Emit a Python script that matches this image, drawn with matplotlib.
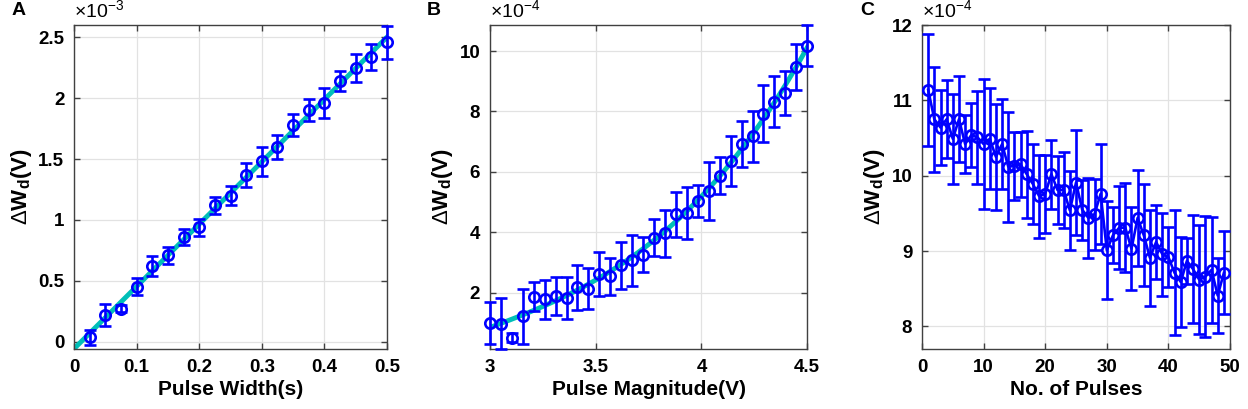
import numpy as np
import matplotlib
matplotlib.use('Agg')
import matplotlib.pyplot as plt

plt.rcParams['font.family'] = ['Liberation Sans', 'DejaVu Sans']
plt.rcParams['mathtext.fontset'] = 'custom'
plt.rcParams['mathtext.rm'] = 'Liberation Sans'
plt.rcParams['mathtext.bf'] = 'Liberation Sans:bold'

# panel A: pulse width (s) vs dW (x1e-3 V)
width_s = np.linspace(0.025, 0.5, 20)
width_dw = [0.036, 0.22, 0.27, 0.45, 0.62, 0.71, 0.86, 0.94, 1.12, 1.20,
            1.37, 1.48, 1.60, 1.78, 1.90, 1.96, 2.14, 2.25, 2.34, 2.46]
width_err = [0.06, 0.09, 0.03, 0.07, 0.08, 0.07, 0.065, 0.07, 0.07, 0.08,
             0.10, 0.12, 0.10, 0.09, 0.09, 0.125, 0.085, 0.115, 0.105, 0.135]

# panel B: pulse magnitude (V) vs dW (x1e-4 V)
mag_v = np.linspace(3.0, 4.5, 30)
mag_dw = [0.99, 0.97, 0.51, 1.22, 1.86, 1.77, 1.88, 1.82, 2.17, 2.13,
          2.61, 2.54, 2.91, 3.07, 3.26, 3.82, 3.96, 4.59, 4.64, 5.03,
          5.37, 5.87, 6.35, 6.92, 7.18, 7.93, 8.32, 8.62, 9.46, 10.17]
mag_err = [0.69, 0.84, 0.15, 0.91, 0.48, 0.64, 0.63, 0.71, 0.75, 0.67,
           0.74, 0.62, 0.78, 0.85, 0.58, 0.60, 0.79, 0.75, 0.85, 0.53,
           0.97, 0.62, 0.82, 0.77, 0.85, 0.95, 0.85, 0.73, 0.76, 0.68]

# panel C: number of pulses vs dW (x1e-4 V)
n_pulses = np.arange(1, 50)
n_dw = [11.14, 10.75, 10.64, 10.75, 10.49, 10.75, 10.42, 10.54, 10.51, 10.42,
        10.49, 10.25, 10.42, 10.12, 10.13, 10.15, 10.02, 9.89, 9.73, 9.76,
        10.02, 9.81, 9.81, 9.54, 9.91, 9.55, 9.44, 9.49, 9.76, 9.01,
        9.21, 9.31, 9.31, 9.03, 9.44, 9.21, 8.91, 9.12, 8.96, 8.92,
        8.71, 8.59, 8.87, 8.76, 8.62, 8.66, 8.75, 8.41, 8.71]
n_err = [0.74, 0.70, 0.50, 0.52, 0.60, 0.57, 0.39, 0.42, 0.62, 0.86,
         0.67, 0.70, 0.60, 0.73, 0.45, 0.43, 0.58, 0.53, 0.55, 0.52,
         0.46, 0.45, 0.50, 0.52, 0.70, 0.40, 0.53, 0.47, 0.66, 0.65,
         0.37, 0.55, 0.59, 0.55, 0.64, 0.68, 0.64, 0.49, 0.55, 0.40,
         0.83, 0.60, 0.31, 0.72, 0.72, 0.80, 0.70, 0.50, 0.55]

blue = (0, 0, 1)
fit_col = (0.0, 0.75, 0.72)

fig = plt.figure(figsize=(12.48, 4.09), dpi=100)
ax_a = fig.add_axes([0.0593, 0.1467, 0.2508, 0.792])
ax_b = fig.add_axes([0.3926, 0.1467, 0.2542, 0.792])
ax_c = fig.add_axes([0.7388, 0.1467, 0.2468, 0.792])

eb_kw = dict(color=blue, mfc='none', ms=7.5, mew=1.9, elinewidth=1.9,
             capsize=4, capthick=1.9, clip_on=False, zorder=3)


def style(ax, label, exp, xlabel):
    ax.grid(True, color='#e2e2e2', linewidth=0.9)
    ax.set_axisbelow(True)
    for s in ax.spines.values():
        s.set_color('#404040')
        s.set_linewidth(1.0)
    ax.tick_params(direction='in', length=4, width=1, top=True, right=True,
                   labelsize=13.5, color='#404040', pad=7)
    for t in ax.get_xticklabels() + ax.get_yticklabels():
        t.set_fontweight('bold')
    ax.set_xlabel(xlabel, fontsize=15, fontweight='bold', labelpad=3)
    ax.set_ylabel(r'$\Delta$W$_\mathbf{d}$(V)', fontsize=16, fontweight='bold', labelpad=3)
    ax.text(0.0, 1.01, r'$\times$10$^{%s}$' % exp, transform=ax.transAxes,
            fontsize=14, ha='left', va='bottom')
    ax.text(-0.2, 1.02, label, transform=ax.transAxes, fontsize=14,
            fontweight='bold', ha='left', va='bottom')


# A: linear fit plus data
k = np.polyfit(width_s, width_dw, 1)
xa = np.linspace(0, 0.5, 50)
ax_a.plot(xa, np.polyval(k, xa), color=fit_col, lw=3.5, zorder=2)
ax_a.errorbar(width_s, width_dw, yerr=width_err, fmt='o', **eb_kw)
ax_a.set_xlim(0, 0.5)
ax_a.set_ylim(-0.06, 2.6)
ax_a.set_xticks([0, 0.1, 0.2, 0.3, 0.4, 0.5])
ax_a.set_xticklabels(['0', '0.1', '0.2', '0.3', '0.4', '0.5'])
ax_a.set_yticks([0, 0.5, 1, 1.5, 2, 2.5])
ax_a.set_yticklabels(['0', '0.5', '1', '1.5', '2', '2.5'])
style(ax_a, 'A', '-3', 'Pulse Width(s)')

# B: polynomial fit plus data
kb = np.polyfit(mag_v, mag_dw, 3)
xb = np.linspace(3, 4.5, 100)
ax_b.plot(xb, np.polyval(kb, xb), color=fit_col, lw=3.5, zorder=2)
ax_b.errorbar(mag_v, mag_dw, yerr=mag_err, fmt='o', **eb_kw)
ax_b.set_xlim(3, 4.5)
ax_b.set_ylim(0.13, 10.86)
ax_b.set_xticks([3, 3.5, 4, 4.5])
ax_b.set_xticklabels(['3', '3.5', '4', '4.5'])
ax_b.set_yticks([2, 4, 6, 8, 10])
style(ax_b, 'B', '-4', 'Pulse Magnitude(V)')

# C
ax_c.errorbar(n_pulses, n_dw, yerr=n_err, fmt='-o', lw=1.9, **eb_kw)
ax_c.set_xlim(0, 50)
ax_c.set_ylim(7.7, 12)
ax_c.set_xticks([0, 10, 20, 30, 40, 50])
ax_c.set_yticks([8, 9, 10, 11, 12])
style(ax_c, 'C', '-4', 'No. of Pulses')

fig.savefig('out.png', dpi=100)
